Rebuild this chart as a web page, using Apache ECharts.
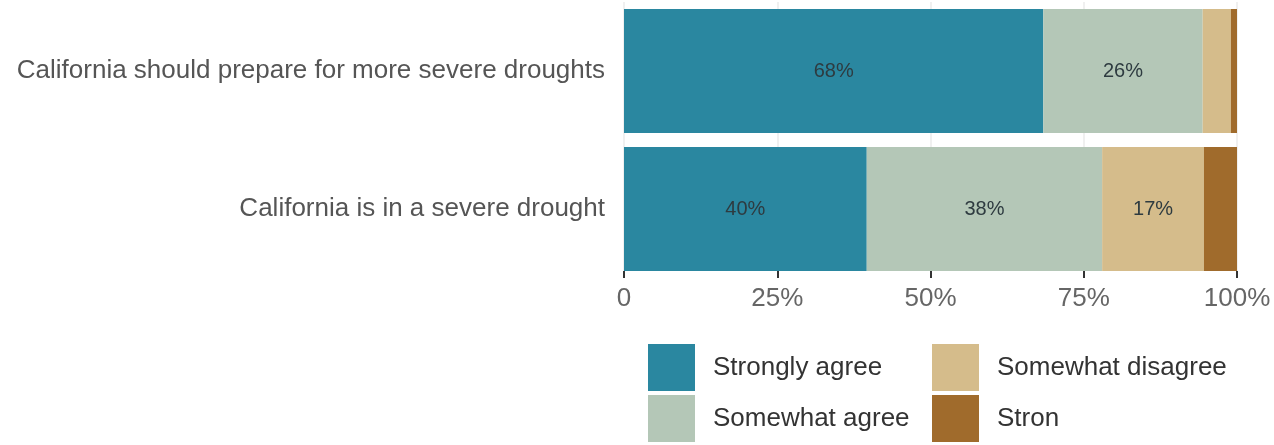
<!DOCTYPE html>
<html>
<head>
<meta charset="utf-8">
<script src="https://cdn.jsdelivr.net/npm/echarts@6/dist/echarts.min.js"></script>
<style>
  html, body { margin: 0; padding: 0; background: #fff; }
  #chart { width: 1274px; height: 445px; }
</style>
</head>
<body>
<div id="chart"></div>
<script>
// categories (top to bottom)
const categories = ['California should prepare for more severe droughts', 'California is in a severe drought']
// series names and values (percent)
const seriesNames = ['Strongly agree', 'Somewhat agree', 'Somewhat disagree', 'Strongly disagree']
const stronglyAgree = [68.4, 39.6]
const somewhatAgree = [26, 38.4]
const somewhatDisagree = [4.6, 16.6]
const stronglyDisagree = [1, 5.4]
const xTicks = [0, 25, 50, 75, 100]

const colors = ['#2a87a0', '#b4c7b7', '#d5bc8b', '#a06b2c']
const font = 'Liberation Sans, Arial, sans-serif'

const values = [stronglyAgree, somewhatAgree, somewhatDisagree, stronglyDisagree]

const series = seriesNames.map((name, i) => ({
  name: name,
  type: 'bar',
  stack: 'total',
  barWidth: 124,
  data: values[i],
  itemStyle: { color: colors[i] },
  label: {
    show: true,
    position: 'inside',
    color: '#2e3b40',
    fontFamily: font,
    fontSize: 20,
    formatter: p => (p.value >= 10 ? Math.round(p.value) + '%' : '')
  }
}))

// one legend per item so each sits where the reference has it
const legendPos = [[648, 344], [648, 395], [932, 344], [932, 395]]
const legends = seriesNames.map((name, i) => ({
  left: legendPos[i][0],
  top: legendPos[i][1],
  padding: 0,
  itemWidth: 47,
  itemHeight: 47,
  icon: 'rect',
  selectedMode: false,
  data: [name],
  formatter: n => (n === 'Strongly disagree' ? 'Stron' : n),
  textStyle: {
    color: '#333',
    fontFamily: font,
    fontSize: 26,
    padding: [0, 0, 0, 13]
  }
}))

const chart = echarts.init(document.getElementById('chart'))
chart.setOption({
  animation: false,
  grid: { left: 624, right: 37, top: 2, height: 276 },
  xAxis: {
    type: 'value',
    min: 0,
    max: 100,
    interval: 25,
    offset: -7,
    axisLine: { show: false },
    axisTick: { show: true, length: 7, lineStyle: { color: '#333', width: 2 } },
    splitLine: { show: true, lineStyle: { color: '#ebebeb', width: 1.5 } },
    axisLabel: {
      margin: 15,
      color: '#666',
      fontFamily: font,
      fontSize: 26,
      formatter: v => (v === 0 ? '0' : v + '%')
    }
  },
  yAxis: {
    type: 'category',
    inverse: true,
    data: categories,
    axisLine: { show: false },
    axisTick: { show: false },
    axisLabel: { margin: 19, color: '#555', fontFamily: font, fontSize: 26 }
  },
  legend: legends,
  series: series
})
</script>
</body>
</html>
